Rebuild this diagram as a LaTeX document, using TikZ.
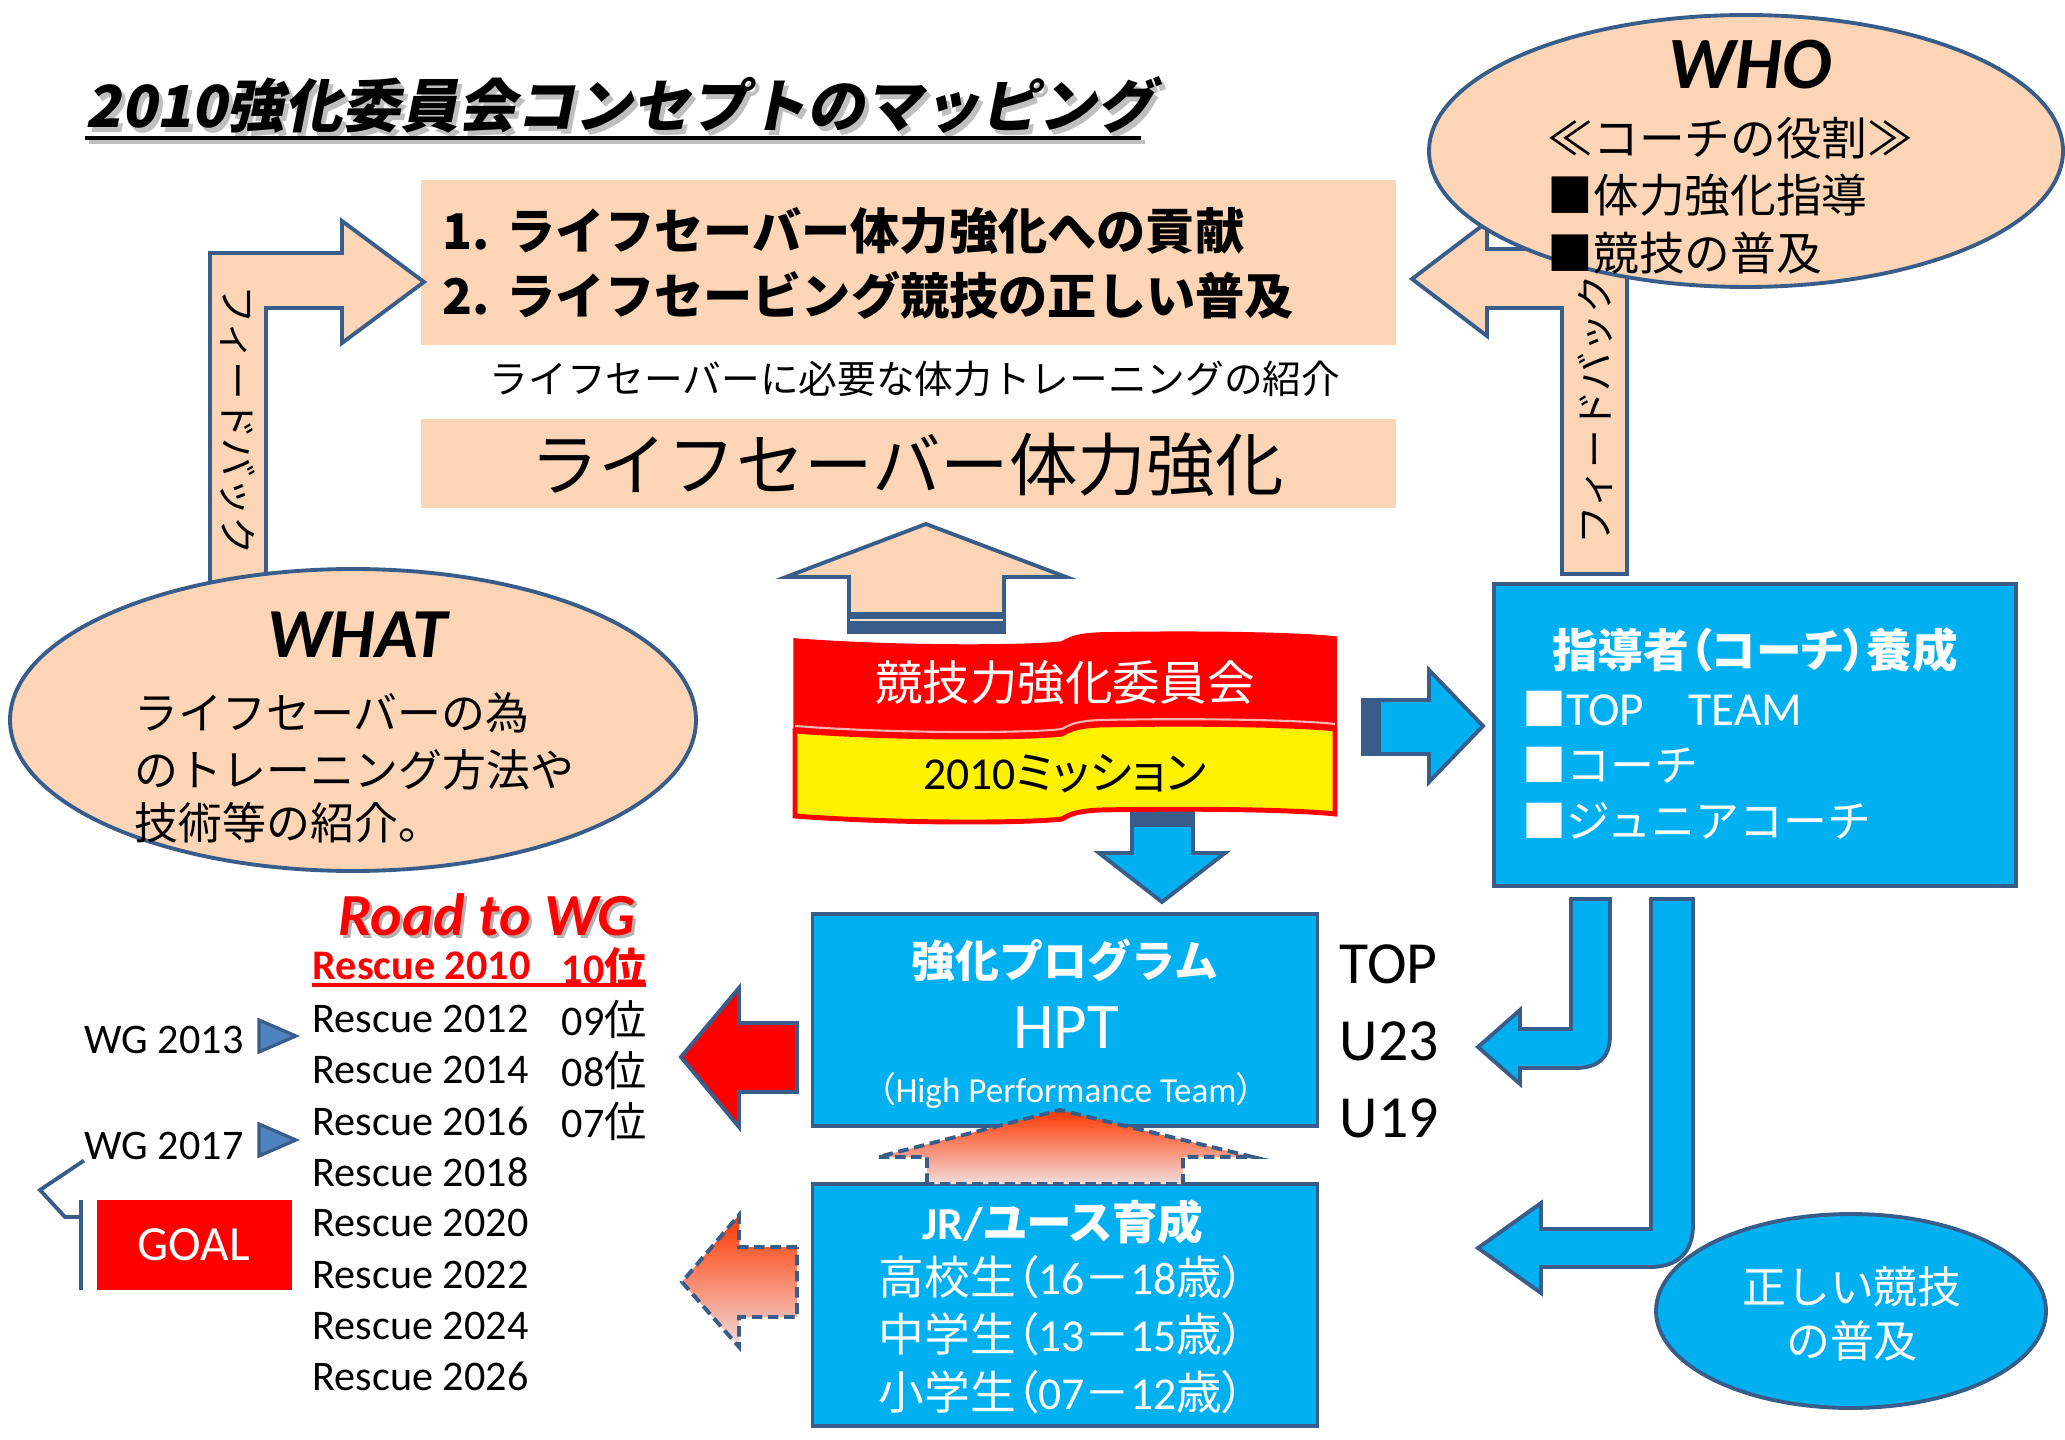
\documentclass[tikz,border=0pt]{standalone}
\usepackage{fontspec}
\setmainfont{Carlito}
\newfontfamily\jp{Noto Sans CJK JP}
\newfontfamily\jpp[RawFeature=+palt]{Noto Sans CJK JP}
\newfontfamily\jpsl[FakeSlant=0.2]{Noto Sans CJK JP}
\newcommand\fsz[1]{\fontsize{#1pt}{#1pt}\selectfont}
\usetikzlibrary{shapes.geometric}
\definecolor{peach}{RGB}{251,213,181}
\definecolor{edgeblue}{RGB}{56,93,138}
\definecolor{skyblue}{RGB}{0,176,240}
\definecolor{hotorange}{RGB}{255,55,0}
\definecolor{palepink}{RGB}{242,220,219}
\definecolor{tri}{RGB}{79,129,189}
% wave edge of the banner, and the same edge run backwards
\newcommand\bannerwave[1]{(795,#1) .. controls (900,{#1+8}) and (1030,{#1+7}) .. (1062,{#1+3}) .. controls (1072,{#1-3}) and (1080,{#1-5}) .. (1100,{#1-6}) .. controls (1200,{#1-8}) and (1300,{#1-6}) .. (1335,{#1-2})}
\newcommand\bannerback[1]{(1335,{#1-2}) .. controls (1300,{#1-6}) and (1200,{#1-8}) .. (1100,{#1-6}) .. controls (1080,{#1-5}) and (1072,{#1-3}) .. (1062,{#1+3}) .. controls (1030,{#1+7}) and (900,{#1+8}) .. (795,#1)}
\begin{document}
\begin{tikzpicture}[x=0.1mm, y=-0.1mm,
  txt/.style={inner sep=0pt},
  wtxt/.style={inner sep=0pt, text=white},
  edgeline/.style={draw=edgeblue, line width=1.1pt, line join=miter},
  peachshape/.style={edgeline, fill=peach},
  blueshape/.style={edgeline, fill=skyblue},
  dashshape/.style={edgeline, dash pattern=on 3pt off 1.6pt, top color=hotorange, middle color=hotorange, bottom color=palepink}]
\useasboundingbox (0,0) rectangle (2065,1440);
% title
\node[txt, anchor=base west, text=black!25, font=\jpsl\bfseries\fsz{16.5}] (ttlshadow) at (89,133){2010強化委員会コンセプトのマッピング};
\draw[black!25, line width=1.2pt] (89,142) -- (1145,142);
\node[txt, anchor=base west, font=\jpsl\bfseries\fsz{16.5}] (ttl) at (85,128){2010強化委員会コンセプトのマッピング};
\draw[line width=1.2pt] (85,138) -- (1141,138);
% goals
\node[fill=peach, inner sep=0pt, minimum width=97.5mm, minimum height=16.5mm] (goals) at (908.5,262.5){};
\node[txt, anchor=west, font=\jp\bfseries\fsz{14}] (goal1) at (442,231){\makebox[6.4mm][l]{1.}ライフセーバー体力強化への貢献};
\node[txt, anchor=west, font=\jp\bfseries\fsz{14}] (goal2) at (442,295){\makebox[6.4mm][l]{2.}ライフセービング競技の正しい普及};
\node[txt, font=\jp\fsz{11}] (intro) at (915,379){ライフセーバーに必要な体力トレーニングの紹介};
\node[fill=peach, inner sep=0pt, minimum width=97.5mm, minimum height=8.9mm] (fitness) at (908.5,463.5){};
\node[txt, font=\jp\fsz{19.5}] (fitnesstxt) at (907,465){ライフセーバー体力強化};
% left feedback
\draw[peachshape] (210,590) -- (210,253) -- (342,253) -- (342,221) -- (424,282) -- (342,343) -- (342,308) -- (266,308) -- (266,590) -- cycle;
\node[txt, rotate=-90, font=\jp\fsz{11}] (fbleft) at (238,420){フィードバック};
\node[ellipse, peachshape, inner sep=0pt, minimum width=68.6mm, minimum height=30.2mm] (what) at (353,720){};
\node[txt, font=\bfseries\itshape\fsz{20}] (whattitle) at (357,635){WHAT};
\node[txt, anchor=west, font=\jp\fsz{12.5}] (what1) at (134,713){ライフセーバーの為};
\node[txt, anchor=west, font=\jp\fsz{12.5}] (what2) at (134,770){のトレーニング方法や};
\node[txt, anchor=west, font=\jp\fsz{12.5}] (what3) at (134,823){技術等の紹介。};
% right feedback
\draw[peachshape] (1562,574) -- (1562,308) -- (1487,308) -- (1487,336) -- (1412,279) -- (1487,222) -- (1487,249) -- (1627,249) -- (1627,574) -- cycle;
\node[ellipse, peachshape, inner sep=0pt, minimum width=63.4mm, minimum height=27.2mm] (who) at (1746,151){};
\node[txt, font=\bfseries\itshape\fsz{21}] (whotitle) at (1750,65){WHO};
\node[txt, anchor=west, font=\jp\fsz{13}] (who1) at (1547,138){≪コーチの役割≫};
\node[txt, anchor=west, font=\jp\fsz{13}] (who2) at (1547,195){■体力強化指導};
\node[txt, anchor=west, font=\jp\fsz{13}] (who3) at (1547,253){■競技の普及};
\node[txt, rotate=90, font=\jp\fsz{11}] (fbright) at (1595,410){フィードバック};
% up arrow to fitness
\draw[peachshape] (849,632) -- (849,577) -- (786,577) -- (926,524) -- (1066,577) -- (1004,577) -- (1004,632) -- cycle;
\fill[edgeblue] (849,612) rectangle (1004,632);
\draw[peach!70, line width=0.5pt] (850,620) -- (1003,620);
% down arrow to HPT
\draw[blueshape] (1132,808) -- (1193,808) -- (1193,853) -- (1225,853) -- (1162,902) -- (1099,853) -- (1132,853) -- cycle;
\fill[edgeblue] (1132,808) rectangle (1193,827);
% banner
\draw[red, fill=red, line width=1pt] \bannerwave{640} -- \bannerback{729} -- cycle;
\draw[red!30, line width=0.6pt] \bannerwave{726};
\draw[red, fill=yellow, line width=1.4pt] \bannerwave{731} -- \bannerback{816} -- cycle;
\node[wtxt, font=\jp\fsz{13.5}] (committee) at (1065,683){競技力強化委員会};
\node[txt, font=\fsz{13}] (mission) at (1065,774){2010{\jpp\fsz{13}ミッション}};
% coaches
\draw[blueshape] (1363,700) -- (1429,700) -- (1429,670) -- (1483,726) -- (1429,782) -- (1429,754) -- (1363,754) -- cycle;
\fill[edgeblue] (1363,700) rectangle (1381,754);
\node[blueshape, inner sep=0pt, minimum width=52.2mm, minimum height=30.2mm] (coach) at (1755,735){};
\node[wtxt, font=\jpp\bfseries\fsz{13}] (coachtitle) at (1755,650){指導者（コーチ）養成};
\node[wtxt, anchor=west, font=\jp\fsz{12.5}] (coach1) at (1522,709){■{\rmfamily\fsz{13.5}TOP}　{\rmfamily\fsz{13.5}TEAM}};
\node[wtxt, anchor=west, font=\jp\fsz{12.5}] (coach2) at (1522,765){■コーチ};
\node[wtxt, anchor=west, font=\jp\fsz{12.5}] (coach3) at (1522,821){■ジュニアコーチ};
% bent arrows
\draw[blueshape] (1571,899) -- (1610,899) -- (1610,1035) .. controls (1610,1058) and (1598,1068) .. (1575,1068) -- (1520,1068) -- (1520,1084) -- (1478,1047) -- (1520,1010) -- (1520,1029) -- (1571,1029) -- cycle;
\draw[blueshape] (1651,899) -- (1693,899) -- (1693,1225) .. controls (1693,1252) and (1678,1267) .. (1650,1267) -- (1541,1267) -- (1541,1293) -- (1478,1248) -- (1541,1203) -- (1541,1229) -- (1651,1229) -- cycle;
\node[ellipse, blueshape, inner sep=0pt, minimum width=39mm, minimum height=19.4mm] (spread) at (1851,1311){};
\node[wtxt, font=\jp\fsz{12.5}] (spread1) at (1852,1287){正しい競技};
\node[wtxt, font=\jp\fsz{12.5}] (spread2) at (1852,1341){の普及};
% HPT and JR
\node[blueshape, inner sep=0pt, minimum width=50.5mm, minimum height=21.2mm] (hpt) at (1065,1020){};
\node[wtxt, font=\jp\bfseries\fsz{12.5}] (hpttitle) at (1065,960){強化プログラム};
\node[wtxt, font=\fsz{18.5}] (hptabbr) at (1066,1028){HPT};
\node[wtxt, font=\fsz{10}] (hptfull) at (1066,1090){{\jpp （}High Performance Team{\jpp ）}};
\node[blueshape, inner sep=0pt, minimum width=50.5mm, minimum height=24.2mm] (jr) at (1065,1305){};
\node[wtxt, font=\jpp\bfseries\fsz{13}] (jrtitle) at (1063,1222){{\rmfamily\bfseries JR/}ユース育成};
\node[wtxt, font=\jpp\fsz{13}] (jr1) at (1062,1277){高校生（{\rmfamily 16}－{\rmfamily 18}歳）};
\node[wtxt, font=\jpp\fsz{13}] (jr2) at (1062,1334){中学生（{\rmfamily 13}－{\rmfamily 15}歳）};
\node[wtxt, font=\jpp\fsz{13}] (jr3) at (1062,1392){小学生（{\rmfamily 07}－{\rmfamily 12}歳）};
\draw[dashshape] (927,1184) -- (927,1157) -- (878,1157) -- (1060,1110) -- (1253,1157) -- (1183,1157) -- (1183,1184) -- cycle;
% arrows to the road
\draw[edgeline, fill=red] (797,1023) -- (739,1023) -- (739,988) -- (681,1057) -- (739,1127) -- (739,1092) -- (797,1092) -- cycle;
\draw[dashshape] (797,1247) -- (739,1247) -- (739,1215) -- (682,1282) -- (739,1347) -- (739,1317) -- (797,1317) -- cycle;
% road to WG
\node[txt, text=black!30, font=\bfseries\itshape\fsz{17}] (roadshadow) at (490,918){Road to WG};
\node[txt, text=red, font=\bfseries\itshape\fsz{17}] (road) at (487,915){Road to WG};
\node[txt, anchor=west, text=red, font=\bfseries\fsz{12}] (r2010) at (312,966){Rescue 2010};
\node[txt, anchor=west, text=red, font=\bfseries\fsz{12}] (rank10) at (561,967){10{\jp 位}};
\draw[red, line width=1.2pt] (312,985) -- (646,985);
\foreach \yr/\yy in {2012/1019, 2014/1070, 2016/1121, 2018/1172, 2020/1223, 2022/1275, 2024/1326, 2026/1376}
  \node[txt, anchor=west, font=\fsz{12}] (r\yr) at (312,\yy){Rescue \yr};
\foreach \rk/\yy in {09/1019, 08/1070, 07/1121}
  \node[txt, anchor=west, font=\fsz{12}] (rank\rk) at (561,\yy){\rk{\jp 位}};
\node[txt, anchor=west, font=\fsz{12}] (wg13) at (84,1040){WG 2013};
\node[txt, anchor=west, font=\fsz{12}] (wg17) at (84,1146){WG 2017};
\draw[edgeline, fill=tri, line width=0.9pt] (259,1020) -- (296,1036) -- (259,1052) -- cycle;
\draw[edgeline, fill=tri, line width=0.9pt] (259,1124) -- (296,1140) -- (259,1156) -- cycle;
\node[fill=red, text=white, inner sep=0pt, minimum width=19.5mm, minimum height=9mm, font=\fsz{14}] (goal) at (194,1245){GOAL};
\draw[edgeline] (wg17.south west) -- (40,1190) -- (65,1217) -- (81,1217);
\draw[edgeline] (81,1200) -- (81,1290);
% squads
\node[txt, anchor=west, font=\fsz{17}] (top) at (1339,964){TOP};
\node[txt, anchor=west, font=\fsz{17}] (u23) at (1339,1041){U23};
\node[txt, anchor=west, font=\fsz{17}] (u19) at (1339,1118){U19};
\end{tikzpicture}
\end{document}
